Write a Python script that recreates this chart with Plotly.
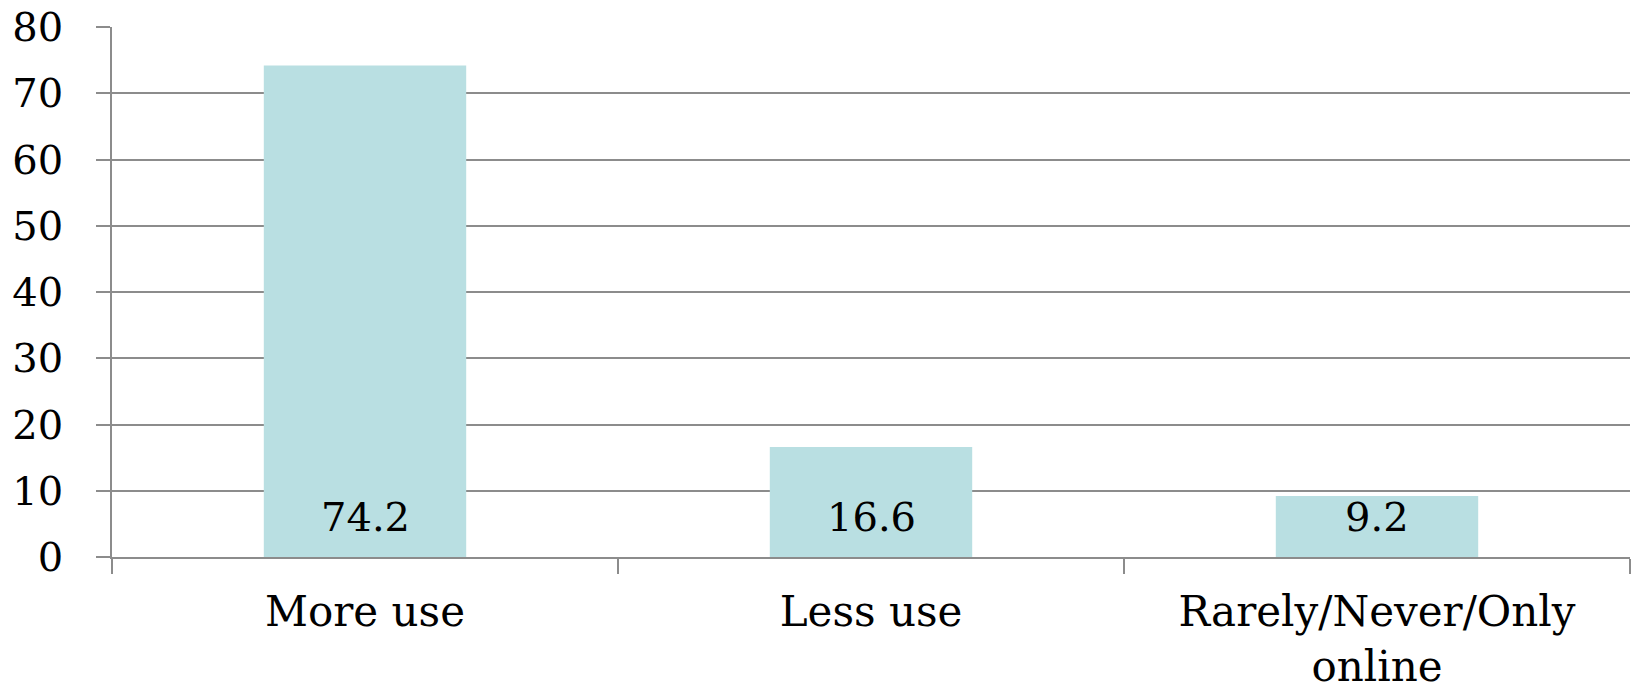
import plotly.graph_objects as go

categories = ["More use", "Less use", "Rarely/Never/Only<br>online"]
values = [74.2, 16.6, 9.2]
y_ticks = [0, 10, 20, 30, 40, 50, 60, 70, 80]

FONT = "DejaVu Serif"
GRID = "#8c8c8c"

fig = go.Figure(
    go.Bar(
        x=categories,
        y=values,
        marker=dict(color="#b9dfe2", line=dict(width=0)),
        hoverinfo="x+y",
    )
)

# value labels sitting near the base of each bar
for cat, val in zip(categories, values):
    fig.add_annotation(
        x=cat,
        y=0,
        text=f"{val:.1f}",
        showarrow=False,
        yanchor="bottom",
        yshift=15,
        font=dict(family=FONT, size=40, color="#000000"),
    )

fig.update_layout(
    width=1637,
    height=691,
    margin=dict(l=112, r=7, t=27, b=134),
    paper_bgcolor="white",
    plot_bgcolor="white",
    bargap=0.6,
    showlegend=False,
    font=dict(family=FONT, color="#000000"),
)

fig.update_xaxes(
    type="category",
    range=[-0.5, 2.5],
    tickson="boundaries",
    ticks="outside",
    ticklen=15,
    tickwidth=1.5,
    tickcolor=GRID,
    showgrid=False,
    showline=True,
    linecolor=GRID,
    linewidth=1.5,
    tickfont=dict(family=FONT, size=42),
    ticklabelstandoff=17,
    automargin=False,
)

fig.update_yaxes(
    range=[0, 80],
    tickvals=y_ticks,
    ticks="outside",
    ticklen=14,
    tickwidth=1.5,
    tickcolor=GRID,
    showgrid=True,
    gridcolor=GRID,
    gridwidth=1.5,
    showline=True,
    linecolor=GRID,
    linewidth=1.5,
    zeroline=False,
    tickfont=dict(family=FONT, size=40),
    ticklabelstandoff=25,
    automargin=False,
)

fig.write_html("out.html")
